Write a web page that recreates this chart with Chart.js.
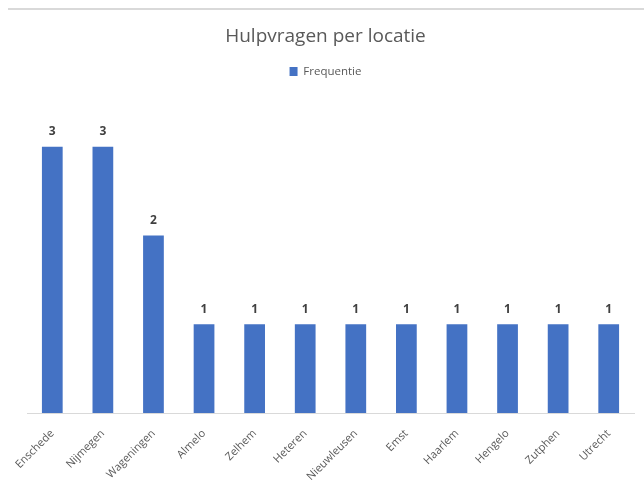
<!DOCTYPE html>
<html>
<head>
<meta charset="utf-8">
<script src="https://cdn.jsdelivr.net/npm/chart.js@4/dist/chart.umd.min.js"></script>
<style>
    html, body { margin: 0; padding: 0; background: #ffffff; }
    #wrap { width: 644px; height: 482px; position: relative; }
</style>
</head>
<body>
<div id="wrap"><canvas id="locatieChart"></canvas></div>
<script>
const locaties = ['Enschede', 'Nijmegen', 'Wageningen', 'Almelo', 'Zelhem', 'Heteren',
    'Nieuwleusen', 'Emst', 'Haarlem', 'Hengelo', 'Zutphen', 'Utrecht'];
const frequentie = [3, 3, 2, 1, 1, 1, 1, 1, 1, 1, 1, 1];

// thin grey frame line on top, like the excel chart border
const topLine = {
    id: 'topLine',
    beforeDraw(chart) {
        const ctx = chart.ctx;
        ctx.save();
        ctx.strokeStyle = '#d9d9d9';
        ctx.lineWidth = 2;
        ctx.beginPath();
        ctx.moveTo(8, 9);
        ctx.lineTo(chart.width, 9);
        ctx.stroke();
        ctx.restore();
    }
};

// value labels above the bars
const barValues = {
    id: 'barValues',
    afterDatasetsDraw(chart) {
        const ctx = chart.ctx;
        const meta = chart.getDatasetMeta(0);
        ctx.save();
        ctx.font = 'bold 12px "Open Sans"';
        ctx.fillStyle = '#404040';
        ctx.textAlign = 'center';
        ctx.textBaseline = 'middle';
        meta.data.forEach(function (bar, i) {
            ctx.fillText(frequentie[i], bar.x, bar.y - 15);
        });
        ctx.restore();
    }
};

const data = {
    labels: locaties,
    datasets: [{
        label: 'Frequentie',
        data: frequentie,
        backgroundColor: '#4472c4',
        borderWidth: 0,
        barPercentage: 0.41,
        categoryPercentage: 1
    }]
};

const config = {
    type: 'bar',
    data: data,
    options: {
        responsive: false,
        animation: false,
        layout: {
            padding: { left: 17, right: 10, top: 0, bottom: 0 }
        },
        scales: {
            y: {
                display: false,
                min: 0,
                max: 3.67
            },
            x: {
                afterFit: function (scale) {
                    scale.height = 69;
                    scale.paddingLeft = 27;
                    scale.paddingRight = 0;
                },
                grid: {
                    display: false,
                    drawTicks: false
                },
                border: {
                    color: '#d9d9d9',
                    width: 1
                },
                ticks: {
                    color: '#595959',
                    font: { family: 'Open Sans', size: 11 },
                    minRotation: 45,
                    maxRotation: 45,
                    padding: 14
                }
            }
        },
        plugins: {
            title: {
                display: true,
                text: 'Hulpvragen per locatie',
                color: '#595959',
                font: { family: 'Open Sans', size: 19, weight: 'normal' },
                padding: { top: 25, bottom: 14 }
            },
            legend: {
                display: true,
                labels: {
                    color: '#595959',
                    font: { family: 'Open Sans', size: 11.5 },
                    boxWidth: 8,
                    boxHeight: 9,
                    padding: 4
                }
            },
            tooltip: { enabled: false }
        }
    },
    plugins: [topLine, barValues]
};

const canvas = document.getElementById('locatieChart');
canvas.width = 644;
canvas.height = 482;
const locatieChart = new Chart(canvas, config);
</script>
</body>
</html>
